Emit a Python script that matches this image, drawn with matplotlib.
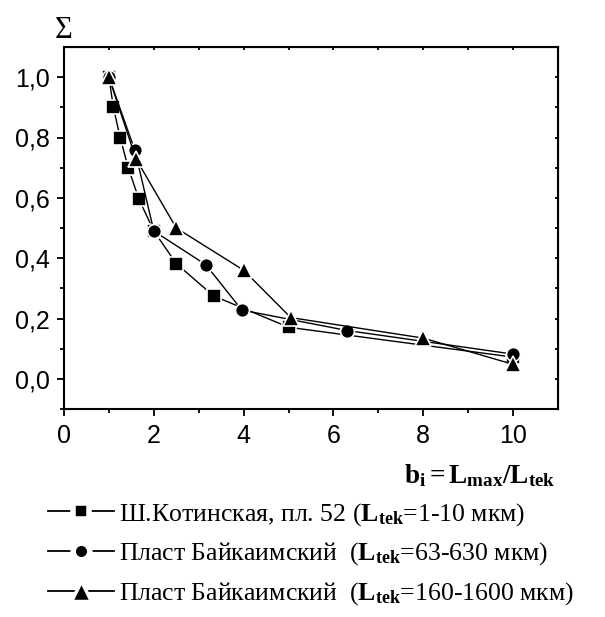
import matplotlib.pyplot as plt
from matplotlib.lines import Line2D
import numpy as np

plt.rcParams['mathtext.fontset'] = 'custom'
plt.rcParams['mathtext.rm'] = 'Liberation Serif'
plt.rcParams['mathtext.it'] = 'Liberation Serif:italic'
plt.rcParams['mathtext.bf'] = 'Liberation Serif:bold'

# Ш.Котинская, пл. 52
x_sq = [1.0, 1.1, 1.25, 1.43, 1.67, 2.0, 2.5, 3.33, 5.0, 10.0]
y_sq = [1.0, 0.90, 0.80, 0.70, 0.595, 0.49, 0.382, 0.275, 0.171, 0.072]
# Пласт Байкаимский 63-630
x_ci = [1.0, 1.58, 2.0, 3.16, 3.96, 6.31, 10.0]
y_ci = [1.0, 0.757, 0.49, 0.378, 0.228, 0.16, 0.082]
# Пласт Байкаимский 160-1600
x_tr = [1.0, 1.6, 2.5, 4.0, 5.05, 8.0, 10.0]
y_tr = [1.0, 0.73, 0.50, 0.36, 0.203, 0.135, 0.048]

labels = [
    r"Ш.Котинская, пл. 52 ($\mathbf{L_{tek}}$=1-10 мкм)",
    r"Пласт Байкаимский  ($\mathbf{L_{tek}}$=63-630 мкм)",
    r"Пласт Байкаимский  ($\mathbf{L_{tek}}$=160-1600 мкм)",
]
x_ticks = [0, 2, 4, 6, 8, 10]
y_ticks = [0.0, 0.2, 0.4, 0.6, 0.8, 1.0]

fig = plt.figure(figsize=(6.05, 6.17), dpi=100)
ax = fig.add_axes([64 / 605, 1 - 409 / 617, 494 / 605, 362 / 617])

kw = dict(color='black', lw=1.0, markeredgecolor='white', markeredgewidth=1.2)
ax.plot(x_sq, y_sq, marker='s', ms=9.5, **kw)
ax.plot(x_ci, y_ci, marker='o', ms=10, **kw)
ax.plot(x_tr, y_tr, marker='^', ms=11, **kw)

ax.set_xlim(0, 11)
ax.set_ylim(-0.1, 1.1)
ax.set_xticks(x_ticks)
ax.set_xticks(np.arange(1, 11, 2), minor=True)
ax.set_yticks(y_ticks)
ax.set_yticks([-0.1, 0.1, 0.3, 0.5, 0.7, 0.9], minor=True)
ax.set_xticklabels([str(v) for v in x_ticks], fontfamily='Liberation Sans', fontsize=18)
ax.set_yticklabels(["{:.1f}".format(v).replace('.', ',') for v in y_ticks],
                   fontfamily='Liberation Sans', fontsize=18)
ax.tick_params(axis='x', which='major', direction='out', length=5, width=1.3, pad=6)
ax.tick_params(axis='y', which='major', direction='out', length=5, width=1.3, pad=5)
ax.tick_params(which='minor', direction='out', length=3, width=1.3)
for s in ax.spines.values():
    s.set_linewidth(1.5)

# small ticks on top and right
ax2 = ax.secondary_xaxis('top')
ax2.set_xticks(np.arange(0, 12, 1))
ax2.tick_params(direction='in', length=2, width=1.3, labeltop=False)
ax3 = ax.secondary_yaxis('right')
ax3.set_yticks(np.arange(-0.1, 1.11, 0.1))
ax3.tick_params(direction='in', length=2, width=1.3, labelright=False)

fig.text(64 / 605, 1 - 31 / 617, "Σ", fontfamily='Liberation Serif', fontsize=22,
         ha='center', va='center')
fig.text(556 / 605, 1 - 483 / 617, r"$\mathbf{b_i = L_{max}/L_{tek}}$",
         fontsize=19.5, ha='right', va='baseline')

# legend handles: short line, marker with white gap, short line
handles = [Line2D([], [], color='black', lw=1.3, marker=m, ms=s,
                  markerfacecolor='black', markeredgecolor='white', markeredgewidth=w)
           for m, s, w in [('s', 11.5, 4), ('o', 12, 4), ('^', 14, 2.5)]]
leg = fig.legend(handles, labels, loc='center left',
                 bbox_to_anchor=(48 / 605, 1 - 554 / 617), frameon=False,
                 prop={'family': 'Liberation Serif', 'size': 18.5},
                 handlelength=2.55, handletextpad=0.2, labelspacing=0.5,
                 borderaxespad=0, borderpad=0, numpoints=1)

fig.savefig('out.png', dpi=100)
